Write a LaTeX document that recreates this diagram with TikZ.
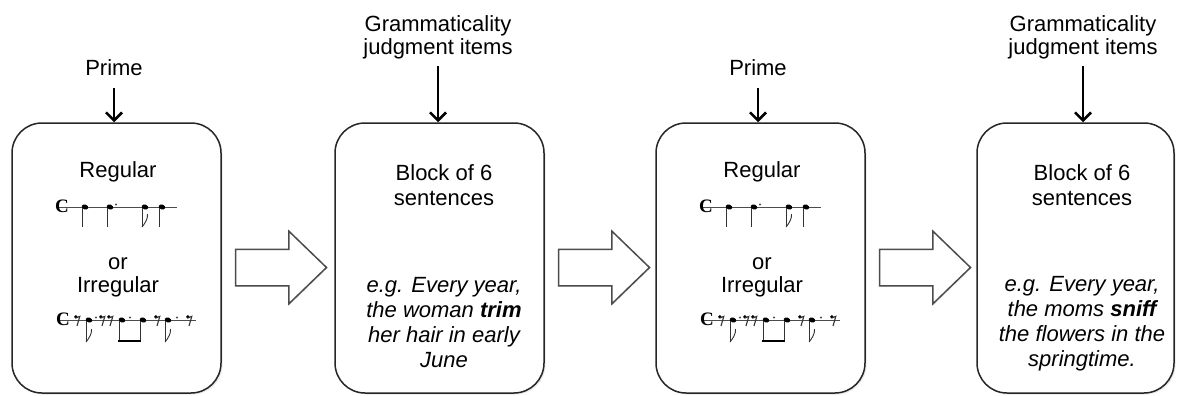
\documentclass[tikz,border=0pt]{standalone}
\usepackage{fontspec}
\setmainfont{Liberation Sans}
\newfontfamily\musicfont{Liberation Serif}
\usetikzlibrary{calc, arrows.meta, shapes.arrows, shadows}

\tikzset{
	stagebox/.style={draw=black!85, line width=1.5pt, rounded corners=30pt, fill=white,
		minimum width=209pt, minimum height=270pt, inner sep=0pt,
		drop shadow={opacity=0.18, shadow xshift=1.5pt, shadow yshift=-1.5pt}},
	boxtext/.style={font=\fontsize{22}{25}\selectfont, align=center, inner sep=0pt, anchor=base},
	toptext/.style={font=\fontsize{22}{23}\selectfont, align=center, inner sep=0pt, anchor=base},
	feedarrow/.style={line width=2.6pt, -{Straight Barb[length=8pt, width=16pt]}},
	flowarrow/.style={single arrow, draw=black!70, line width=1.5pt, fill=white,
		minimum height=91pt, inner xsep=0pt, inner ysep=17.5pt, single arrow head extend=18pt,
		single arrow tip angle=88, shape border rotate=0, anchor=tail,
		drop shadow={opacity=0.15, shadow xshift=1pt, shadow yshift=-1pt}},
	staffline/.style={draw=black!70, line width=0.9pt},
	stemline/.style={draw=black!80, line width=0.9pt},
	pics/crotchet/.style={code={
		\fill[black, rotate=-20] (0,0) ellipse (3.4 and 2.4);
		\draw[stemline] (-2.9,0.5) -- (-2.9,#1);
	}},
	pics/crotchet/.default=20,
	pics/quaver/.style={code={
		\fill[black, rotate=-20] (0,0) ellipse (3.4 and 2.4);
		\draw[stemline] (-2.9,0.5) -- (-2.9,#1);
		\draw[stemline] (-2.9,#1) .. controls (0,#1-4) and (3,#1-8) .. (2.5,#1-13);
	}},
	pics/quaver/.default=20,
	pics/augdot/.style={code={\fill[black!70] (0,-2.5) circle (1.1pt);}},
	pics/quaverrest/.style={code={
		\fill[black] (-1.2,-3.2) circle (1.8pt);
		\draw[stemline, line width=1.1pt] (-1.2,-2) -- (2.8,-3.6) -- (0,6);
	}},
	pics/commontime/.style={code={
		\node[inner sep=0pt, font=\musicfont\fontsize{19}{19}\selectfont\bfseries] at (0,0) {C};
	}}
}

\begin{document}
\begin{tikzpicture}[x=1pt, y=-1pt]

	\useasboundingbox (0,0) rectangle (1178,396);

	% Rhythm of the prime, regular then irregular
	\def\primeRhythm{
		\draw[staffline] (57,207) -- (177,207);
		\pic at (62,206) {commontime};
		\pic at (85,207) {crotchet};
		\pic at (110,207) {crotchet};
		\pic at (116,207) {augdot};
		\pic at (145,207) {quaver};
		\pic at (162,207) {crotchet};

		\draw[staffline] (58,320) -- (196,320);
		\pic at (63,319) {commontime};
		\pic at (77,320) {quaverrest};
		\pic at (89,320) {quaver=22};
		\pic at (96,320) {augdot};
		\pic at (102,320) {quaverrest};
		\pic at (110,320) {quaverrest};
		\pic at (122,320) {crotchet=22};
		\pic at (130,320) {augdot};
		\pic at (143,320) {crotchet=22};
		\draw[black, line width=2.4pt] (118.3,341) -- (141,341);
		\pic at (157,320) {quaverrest};
		\pic at (168,320) {quaver=22};
		\pic at (177,320) {augdot};
		\pic at (189,320) {quaverrest};
	}

	% Stages
	\node[stagebox] (box1) at (116.5,258) {};
	\node[stagebox] (box2) at (439.5,258) {};
	\node[stagebox] (box3) at (760.5,258) {};
	\node[stagebox, minimum width=197pt] (box4) at (1075.5,258) {};

	% Prime 1
	\node[boxtext] (regular1) at (118,177) {Regular};
	\node[boxtext] (or1) at (118,269) {or};
	\node[boxtext] (irregular1) at (118,292) {Irregular};
	\primeRhythm

	% Judgment block 1 (base is the last line)
	\node[boxtext] (block2) at (444,205) {Block of 6\\sentences};
	\node[boxtext, font=\fontsize{22}{25}\selectfont\itshape] (items2) at (444,367)
		{e.g. Every year,\\the woman \textbf{trim}\\her hair in early\\June};

	% Prime 2
	\node[boxtext] (regular3) at (762,177) {Regular};
	\node[boxtext] (or3) at (762,269) {or};
	\node[boxtext] (irregular3) at (762,292) {Irregular};
	\begin{scope}[xshift=644pt]
		\primeRhythm
	\end{scope}

	% Judgment block 2
	\node[boxtext] (block4) at (1082,205) {Block of 6\\sentences};
	\node[boxtext, font=\fontsize{22}{25}\selectfont\itshape] (items4) at (1082,366)
		{e.g. Every year,\\the moms \textbf{sniff}\\the flowers in the\\springtime.};

	% Labels above the stages
	\node[toptext] (prime1) at (114,76) {Prime};
	\node[toptext] (judge2) at (438,55) {Grammaticality\\judgment items};
	\node[toptext] (prime3) at (758,76) {Prime};
	\node[toptext] (judge4) at (1083,55) {Grammaticality\\judgment items};

	\coordinate (feed1) at (114,88);
	\coordinate (feed2) at (438,66);
	\coordinate (feed3) at (758,88);
	\coordinate (feed4) at (1083,66);

	\draw[feedarrow] (feed1) -- (feed1 |- box1.north);
	\draw[feedarrow] (feed2) -- (feed2 |- box2.north);
	\draw[feedarrow] (feed3) -- (feed3 |- box3.north);
	\draw[feedarrow] (feed4) -- (feed4 |- box4.north);

	% Flow between stages
	\node[flowarrow] (arrow1) at ($(box1.east)+(13,9.5)$) {};
	\node[flowarrow] (arrow2) at ($(box2.east)+(13,9.5)$) {};
	\node[flowarrow] (arrow3) at ($(box3.east)+(13,9.5)$) {};

\end{tikzpicture}
\end{document}
